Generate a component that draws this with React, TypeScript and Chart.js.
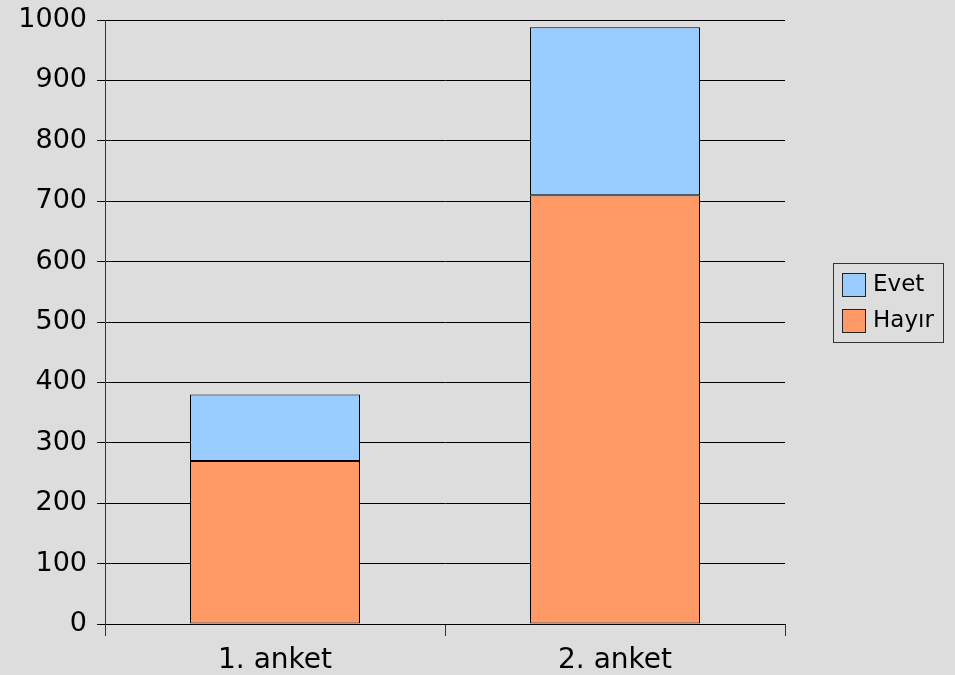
import React, { useEffect, useRef } from "react";
import { Chart, registerables } from "chart.js";

Chart.register(...registerables);

const categories = ["1. anket", "2. anket"];
const hayirValues = [270, 710];
const evetValues = [110, 278];
const seriesLabels = ["Hayır", "Evet"];
const seriesColors = ["#ff9966", "#99ccff"];
const yTicks = [0, 100, 200, 300, 400, 500, 600, 700, 800, 900, 1000];

const FONT = "'DejaVu Sans', sans-serif";

const bgPlugin = {
  id: "bg",
  beforeDraw(chart: any) {
    const { ctx, width, height } = chart;
    ctx.save();
    ctx.fillStyle = "#dddddd";
    ctx.fillRect(0, 0, width, height);
    ctx.restore();
  },
};

const legendPlugin = {
  id: "boxLegend",
  afterDraw(chart: any) {
    const { ctx } = chart;
    const items = chart.data.datasets.map((d: any) => ({ label: d.label, color: d.backgroundColor })).reverse();
    const bx = 833.5, by = 263.5, bw = 110, bh = 79;
    ctx.save();
    ctx.strokeStyle = "#333333";
    ctx.lineWidth = 1;
    ctx.strokeRect(bx, by, bw, bh);
    ctx.font = `23px ${FONT}`;
    ctx.textBaseline = "middle";
    ctx.textAlign = "left";
    items.forEach((it: any, i: number) => {
      const sy = 273.5 + i * 36;
      ctx.fillStyle = it.color;
      ctx.fillRect(842.5, sy, 23, 23);
      ctx.strokeStyle = "#222222";
      ctx.strokeRect(842.5, sy, 23, 23);
      ctx.fillStyle = "#000000";
      ctx.fillText(it.label, 873, sy + 12);
    });
    ctx.restore();
  },
};

export default function App() {
  const ref = useRef<HTMLCanvasElement | null>(null);
  useEffect(() => {
    if (!ref.current) return;
    const chart = new Chart(ref.current, {
      type: "bar",
      data: {
        labels: categories,
        datasets: [
          {
            label: seriesLabels[0],
            data: hayirValues,
            backgroundColor: seriesColors[0],
            borderColor: "#000000",
            borderWidth: 1,
            borderSkipped: false,
            barPercentage: 0.5,
            categoryPercentage: 1.0,
          },
          {
            label: seriesLabels[1],
            data: evetValues,
            backgroundColor: seriesColors[1],
            borderColor: "#000000",
            borderWidth: 1,
            borderSkipped: false,
            barPercentage: 0.5,
            categoryPercentage: 1.0,
          },
        ],
      },
      options: {
        responsive: false,
        animation: false,
        layout: { padding: { left: 0, right: 170, top: 20, bottom: 0 } },
        plugins: {
          legend: { display: false },
          tooltip: { enabled: false },
        },
        scales: {
          x: {
            stacked: true,
            offset: true,
            grid: {
              offset: true,
              drawOnChartArea: false,
              drawTicks: true,
              tickLength: 12,
              color: "#333333",
            },
            border: { color: "#000000" },
            ticks: {
              color: "#000000",
              font: { family: FONT, size: 28 },
              padding: 8,
            },
            afterFit(scale: any) {
              scale.height = 51;
              scale.paddingLeft = 0;
              scale.paddingRight = 0;
            },
          },
          y: {
            stacked: true,
            min: 0,
            max: 1000,
            afterBuildTicks(scale: any) {
              scale.ticks = yTicks.map((v) => ({ value: v }));
            },
            grid: {
              color: "#000000",
              tickLength: 8,
              drawTicks: true,
            },
            border: { color: "#333333" },
            ticks: {
              color: "#000000",
              font: { family: FONT, size: 27 },
              padding: 10,
              callback: (v: any) => String(v),
            },
            afterFit(scale: any) {
              scale.width = 105;
              scale.paddingTop = 0;
              scale.paddingBottom = 0;
            },
          },
        },
      },
      plugins: [bgPlugin, legendPlugin],
    });
    return () => chart.destroy();
  }, []);
  return (
    <div style={{ position: "absolute", left: 0, top: 0, width: 955, height: 675 }}>
      <canvas ref={ref} width={955} height={675} />
    </div>
  );
}
